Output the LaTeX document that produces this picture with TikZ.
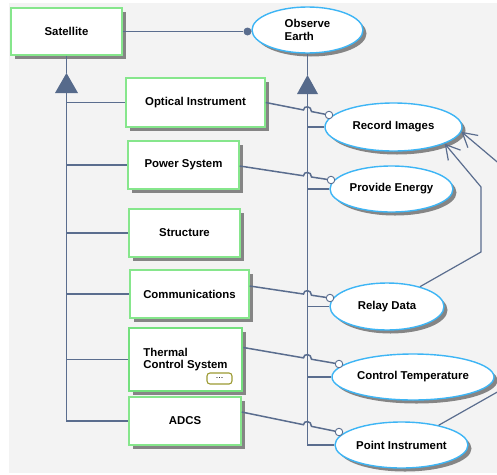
\documentclass[tikz,border=0pt]{standalone}
\usepackage{fontspec}
\setmainfont{Liberation Sans}
\usetikzlibrary{shapes.geometric,shadows,arrows.meta,calc}
\definecolor{bgc}{HTML}{F3F3F3}
\definecolor{boxgreen}{HTML}{86E68C}
\definecolor{thermgreen}{HTML}{74E07E}
\definecolor{ellblue}{HTML}{3DB5F5}
\definecolor{linec}{HTML}{5A6D8E}
\definecolor{trifill}{HTML}{566A8B}
\definecolor{shadowc}{HTML}{858585}
\definecolor{olivec}{HTML}{9C9A32}
\newcommand\hopline[2]{%
  \draw[conn] let \p1=(#1), \p2=(#2.center),
    \n1={\y1+(\y2-\y1)*(303.5pt-\x1)/(\x2-\x1)},
    \n2={\y1+(\y2-\y1)*(311.5pt-\x1)/(\x2-\x1)},
    \n3={\y1+(\y2-\y1)*(307.5pt-\x1)/(\x2-\x1)+5.3pt} in
    (\p1) -- (303.5pt,\n1) .. controls (303.5pt,\n3) and (311.5pt,\n3) .. (311.5pt,\n2) -- (#2);}
\tikzset{
  lbl/.style={font=\fontsize{11.4}{12.5}\selectfont\bfseries},
  blockbox/.style={rectangle, draw=boxgreen, line width=1.4pt, fill=white, inner sep=0pt, lbl,
    general shadow={fill=shadowc, shadow xshift=4pt, shadow yshift=-4pt}},
  ucase/.style={ellipse, draw=ellblue, line width=1.4pt, fill=white, inner sep=0pt, lbl,
    general shadow={fill=shadowc, shadow xshift=3.5pt, shadow yshift=-3.5pt}},
  conn/.style={draw=linec, line width=1.5pt},
  tree/.style={draw=linec, line width=1.7pt},
  ifc/.style={circle, draw=linec, fill=white, line width=0.9pt, minimum size=7.5pt, inner sep=0pt},
  dotn/.style={circle, fill=linec, minimum size=8pt, inner sep=0pt},
  barb/.style={-{Straight Barb[length=14pt,width=16pt]}}
}
\begin{document}
\begin{tikzpicture}[x=1pt,y=-1pt]
\useasboundingbox (0,0) rectangle (497,474);
\begin{scope}
\clip (0,0) rectangle (497,474);
\fill[white] (0,0) rectangle (497,474);
\fill[bgc] (9,3) rectangle (497,473);

% blocks
\node[blockbox, minimum width=111, minimum height=47] (sat) at (66.5,31.5) {Satellite};
\node[blockbox, minimum width=139, minimum height=49] (oi) at (195.5,102.5) {Optical Instrument};
\node[blockbox, minimum width=111, minimum height=48] (ps) at (183.5,165) {Power System};
\node[blockbox, minimum width=111, minimum height=48] (st) at (184.5,233) {Structure};
\node[blockbox, minimum width=119, minimum height=48] (cm) at (189.5,294) {Communications};
\node[blockbox, draw=thermgreen, line width=2.8pt, minimum width=113, minimum height=63, align=left] (tc) at (185.5,359.5) {Thermal\\Control System};
\node[rectangle, rounded corners=3pt, draw=olivec, line width=1.1pt, fill=white, minimum width=25, minimum height=11, inner sep=0pt, font=\fontsize{9}{9}\selectfont] (more) at (219.5,378.5) {\raisebox{1pt}{...}};
\node[blockbox, minimum width=112, minimum height=48] (ad) at (185,421) {ADCS};

% use cases
\node[ucase, minimum width=111, minimum height=46, align=left] (oe) at (307.5,30) {Observe\\Earth};
\node[ucase, minimum width=137, minimum height=48] (ri) at (393.5,127) {Record Images};
\node[ucase, minimum width=123, minimum height=46] (pe) at (391.5,189) {Provide Energy};
\node[ucase, minimum width=114, minimum height=47] (rd) at (387,306.5) {Relay Data};
\node[ucase, minimum width=162, minimum height=46] (ct) at (413,377) {Control Temperature};
\node[ucase, minimum width=133, minimum height=46] (pi) at (401.5,445) {Point Instrument};

% interface circles
\node[ifc] (c1) at (329,115) {};
\node[ifc] (c2) at (331,180) {};
\node[ifc] (c3) at (330,298) {};
\node[ifc] (c4) at (339,364) {};
\node[ifc] (c5) at (339,432) {};

% satellite - observe earth
\node[dotn] (dot) at (247.5,31.5) {};
\draw[conn] (sat.east) -- (dot);

% left generalization tree
\coordinate (lapex) at (66.5,73);
\coordinate (lbase) at (66.5,93);
\draw[tree] (sat.south) -- (lapex);
\draw[tree] (lbase) -- (lbase |- ad.west) -- (ad.west);
\foreach \n in {oi,ps,st,cm,tc} \draw[tree] (lbase |- \n.west) -- (\n.west);
\fill[trifill] (lapex) -- ($(lbase)+(11.5,0)$) -- ($(lbase)+(-11.5,0)$) -- cycle;

% right generalization tree
\coordinate (rapex) at (307.5,75);
\coordinate (rbase) at (307.5,94);
\draw[conn] (oe.south) -- (rapex);
\draw[conn] (rbase) -- (rbase |- pi.west) -- (pi.west);
\foreach \n in {ri,pe,rd,ct} \draw[conn] (rbase |- \n.west) -- (\n.west);
\fill[trifill] (rapex) -- ($(rbase)+(10.5,0)$) -- ($(rbase)+(-10.5,0)$) -- cycle;

% block to use case links with hops
\coordinate (oiout) at (oi.east);
\coordinate (psout) at ($(ps.east)+(0,1)$);
\coordinate (cmout) at ($(cm.east)+(0,-8)$);
\coordinate (tcout) at ($(tc.east)+(0,-12)$);
\coordinate (adout) at ($(ad.east)+(0,-9)$);
\hopline{oiout}{c1}
\hopline{psout}{c2}
\hopline{cmout}{c3}
\hopline{tcout}{c4}
\hopline{adout}{c5}

% dependencies to Record Images
\coordinate (k1) at (481,252);
\coordinate (k2) at (481,187);
\draw[conn, line width=1.2pt, barb] (rd.31) -- (k1) -- (k2) -- (ri.-18);
\coordinate (k3) at (515,382);
\coordinate (k4) at (515,177);
\draw[conn, line width=1.2pt, barb] (pi.28) -- (k3) -- (k4) -- (ri.-4);
\end{scope}
\end{tikzpicture}
\end{document}
